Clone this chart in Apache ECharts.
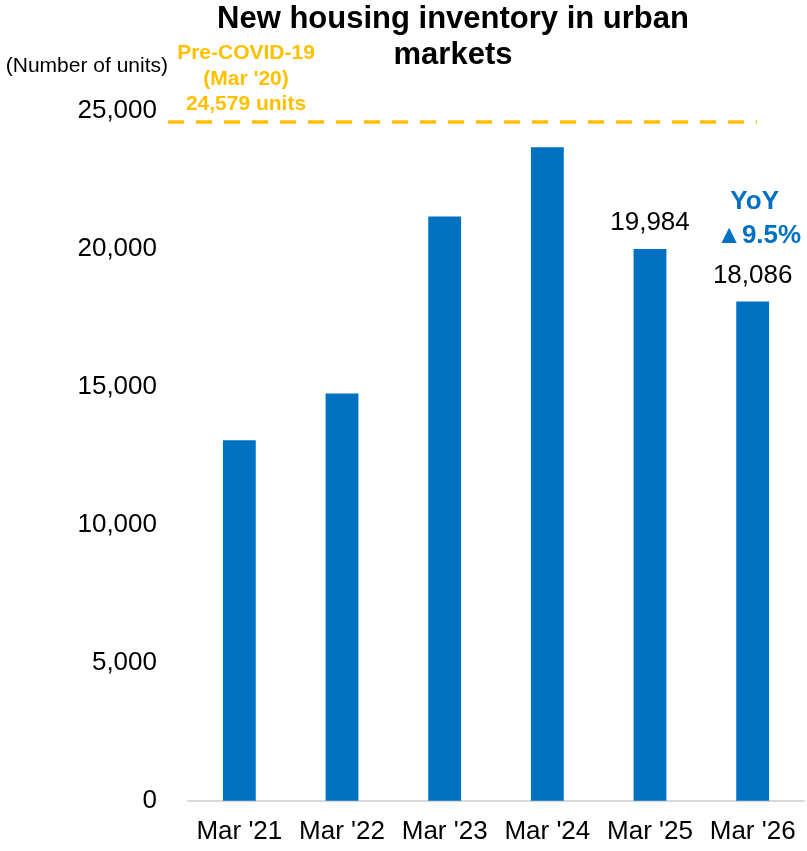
<!DOCTYPE html>
<html>
<head>
<meta charset="utf-8">
<title>New housing inventory in urban markets</title>
<script src="https://cdn.jsdelivr.net/npm/echarts@6/dist/echarts.min.js"></script>
<style>
  html, body { margin: 0; padding: 0; background: #ffffff; }
  #chart { width: 807px; height: 851px; }
</style>
</head>
<body>
<div id="chart"></div>
<script>
// Year-end (March) inventory of newly built homes
const categories = ["Mar '21", "Mar '22", "Mar '23", "Mar '24", "Mar '25", "Mar '26"];
const inventory = [13060, 14750, 21160, 23670, 19984, 18086];
const labelledCategories = ["Mar '25", "Mar '26"];

// Pre-pandemic reference level
const preCovidLevel = 24579;
const preCovidLines = ["Pre-COVID-19", "(Mar '20)", "24,579 units"];

// Year-on-year change shown over the latest bar
const yoyLines = ["YoY", "\u25B29.5%"];

const yTicks = [0, 5000, 10000, 15000, 20000, 25000];

const FONT = "'Liberation Sans', Arial, 'DejaVu Sans', sans-serif";
const BLUE = '#0070C0';
const GOLD = '#FFC000';

const fmt = v => Number(v).toLocaleString('en-US');
const lastIdx = categories.length - 1;

const barData = inventory.map((v, i) => {
  const item = { value: v };
  if (labelledCategories.includes(categories[i])) {
    item.label = { show: true };
    if (i === lastIdx) {
      item.label.formatter = '{a|' + yoyLines[0] + '}\n{b|' + yoyLines[1] + '}\n{v|' + fmt(v) + '}';
    }
  }
  return item;
});

const chart = echarts.init(document.getElementById('chart'), null, { renderer: 'canvas' });

chart.setOption({
  animation: false,
  backgroundColor: '#ffffff',
  textStyle: { fontFamily: FONT },
  title: {
    text: 'New housing inventory in urban\nmarkets',
    left: 453,
    top: 0,
    textAlign: 'center',
    padding: [1, 0, 0, 0],
    textStyle: {
      fontFamily: FONT, fontSize: 31, fontWeight: 'bold', color: '#000', lineHeight: 36
    }
  },
  grid: { left: 188, right: 3, top: 110.5, bottom: 50.3, containLabel: false },
  xAxis: {
    type: 'category',
    data: categories,
    axisLine: { show: true, lineStyle: { color: '#D9D9D9', width: 2 } },
    axisTick: { show: false },
    axisLabel: { fontFamily: FONT, fontSize: 26, color: '#000', margin: 18, interval: 0 },
    splitLine: { show: false }
  },
  yAxis: {
    type: 'value',
    min: yTicks[0],
    max: yTicks[yTicks.length - 1],
    interval: yTicks[1] - yTicks[0],
    name: '(Number of units)',
    nameLocation: 'end',
    nameGap: 44.5,
    nameTextStyle: {
      fontFamily: FONT, fontSize: 21, color: '#000',
      align: 'right', verticalAlign: 'middle', padding: [0, 20, 0, 0]
    },
    axisLine: { show: false },
    axisTick: { show: false },
    splitLine: { show: false },
    axisLabel: { fontFamily: FONT, fontSize: 26, color: '#000', margin: 31, formatter: v => fmt(v) }
  },
  series: [{
    type: 'bar',
    data: barData,
    barWidth: '32%',
    itemStyle: { color: BLUE },
    label: {
      show: false,
      position: 'top',
      distance: 11,
      fontFamily: FONT,
      fontSize: 26,
      lineHeight: 30,
      color: '#000',
      formatter: p => fmt(p.value),
      rich: {
        a: { fontFamily: FONT, fontSize: 26, fontWeight: 'bold', color: BLUE, lineHeight: 17, padding: [0, 0, 0, 4] },
        b: { fontFamily: FONT, fontSize: 26, fontWeight: 'bold', color: BLUE, lineHeight: 50, padding: [0, 0, 0, 12] },
        v: { fontFamily: FONT, fontSize: 26, color: '#000', lineHeight: 30 }
      }
    },
    markLine: {
      silent: true,
      symbol: 'none',
      lineStyle: { color: GOLD, width: 3.5, type: [16, 12] },
      label: {
        show: true,
        position: 'insideStartTop',
        distance: [78, 5],
        align: 'center',
        formatter: preCovidLines.join('\n'),
        fontFamily: FONT,
        fontSize: 21,
        fontWeight: 'bold',
        lineHeight: 25.5,
        color: GOLD
      },
      data: [[
        { coord: [0, preCovidLevel], x: 168 },
        { coord: [lastIdx, preCovidLevel], x: 757 }
      ]]
    }
  }]
});
</script>
</body>
</html>
